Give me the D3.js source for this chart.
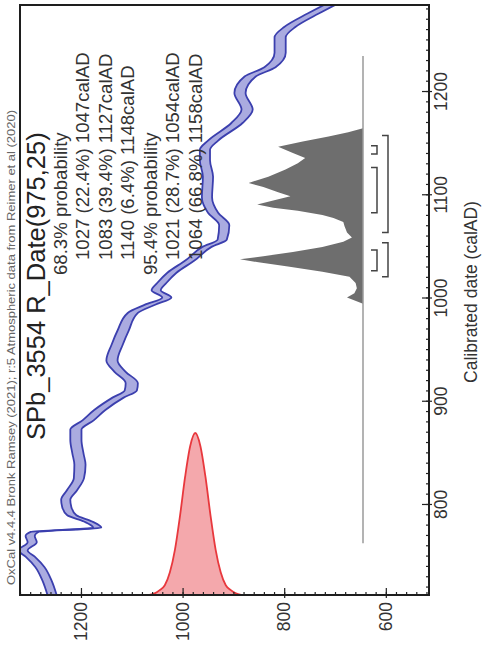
<!DOCTYPE html>
<html>
<head>
<meta charset="utf-8">
<script src="https://cdn.jsdelivr.net/npm/d3@7"></script>
<style>
body { margin: 0; background: #fff; }
svg { display: block; font-family: "Liberation Sans", Arial, sans-serif; }
</style>
</head>
<body>
<div id="chart-area"></div>
<script>
// Calibration curve (IntCal20): calAD, BP, 1 sigma
var curveCal = [713,727,740,750,756,764,770,774,778,784,790,798,805,814,826,839,850,863,873,882,
                892,904,911,918,929,940,955,969,986,994,1001,1008,1015,1025,1037,1050,1057,1071,1083,1098,
                1118,1134,1144,1153,1170,1183,1199,1215,1224,1238,1253,1263,1276,1286];
var curveBP = [1257,1267,1281,1300,1314,1296,1300,1291,1168,1186,1218,1228,1230,1218,1204,1202,1206,1210,1210,1186,
               1163,1127,1102,1100,1123,1139,1129,1117,1098,1064,1031,1052,1041,1021,985,952,922,918,940,952,
               950,956,956,940,893,873,887,867,828,808,808,789,743,704];
var curveErr = [9,9,9,9,9,9,9,8,8,8,9,9,9,10,10,11,11,11,11,11,
                11,11,12,12,11,11,11,11,10,10,9,9,9,9,9,9,9,10,10,10,
                10,10,10,10,11,11,11,11,11,11,11,11,11,11];

// Radiocarbon measurement 975 +/- 25 BP (relative density)
var measBP = [1065,1055,1045,1035,1025,1015,1005,995,985,975,965,955,945,935,925,915,905,895,885];
var measDens = [0,0.01,0.03,0.06,0.14,0.28,0.49,0.73,0.92,1.0,0.92,0.73,0.49,0.28,0.14,0.06,0.03,0.01,0];

// Calibrated distribution (relative density)
var calYears = [995,1001,1005,1010,1015,1021,1026,1031,1035,1038,1041,1045,1050,1055,1059,1064,1070,1074,1078,1081,
                1085,1088,1091,1095,1099,1103,1108,1112,1118,1125,1131,1136,1141,1147,1152,1157,1161,1165];
var calDens = [0,0.13,0.07,0.05,0.06,0.11,0.33,0.61,0.85,1.0,0.81,0.57,0.33,0.16,0.09,0.13,0.15,0.16,0.24,0.33,
               0.53,0.73,0.86,0.73,0.59,0.69,0.81,0.93,0.77,0.63,0.53,0.47,0.57,0.69,0.49,0.28,0.12,0];
var calLine = [763, 1235];

var range68 = [[1027,1047],[1083,1127],[1140,1148]];
var range95 = [[1021,1054],[1064,1158]];

var calTicks = [800, 900, 1000, 1100, 1200];
var bpTicks = [600, 800, 1000, 1200];

var headerText = "OxCal v4.4.4 Bronk Ramsey (2021); r:5 Atmospheric data from Reimer et al (2020)";
var titleText = "SPb_3554 R_Date(975,25)";
var probHeads = ["68.3% probability", "95.4% probability"];
var lines68 = ["1027 (22.4%) 1047calAD", "1083 (39.4%) 1127calAD", "1140 (6.4%) 1148calAD"];
var lines95 = ["1021 (28.7%) 1054calAD", "1064 (66.8%) 1158calAD"];
var xTitle = "Calibrated date (calAD)";

// the whole OxCal plot is turned a quarter turn anticlockwise
var width = 590, height = 409;

var svg = d3.select("#chart-area")
    .append("svg")
    .attr("width", 490)
    .attr("height", 649);

var g = svg.append("g")
    .attr("transform", "translate(20,595) rotate(-90)");

// Scales
var x = d3.scaleLinear().domain([712.8, 1284.3]).range([0, width]);
var y = d3.scaleLinear().domain([515, 1320]).range([height, 0]);
var distY = d3.scaleLinear().domain([0, 1]).range([343, 220]);
var measX = d3.scaleLinear().domain([0, 1]).range([0, 162]);

g.append("clipPath").attr("id", "plotclip")
  .append("rect").attr("width", width).attr("height", height);

var plot = g.append("g").attr("clip-path", "url(#plotclip)");

// red measurement curve along the BP axis
var measData = measBP.map(function(b, i){ return { bp: b, d: measDens[i] }; });
var measArea = d3.area()
    .curve(d3.curveMonotoneY)
    .y(function(d){ return y(d.bp); })
    .x0(0)
    .x1(function(d){ return measX(d.d); });
plot.append("path")
    .attr("d", measArea(measData))
    .attr("fill", "#f4a8ac")
    .attr("stroke", "#e8383d")
    .attr("stroke-width", 1.8);

// calibration curve band
var curveData = curveCal.map(function(c, i){ return { cal: c, bp: curveBP[i], e: curveErr[i] }; });
var band = d3.area()
    .curve(d3.curveMonotoneX)
    .x(function(d){ return x(d.cal); })
    .y0(function(d){ return y(d.bp - d.e); })
    .y1(function(d){ return y(d.bp + d.e); });
plot.append("path")
    .attr("d", band(curveData))
    .attr("fill", "#aaabe0");
[-1, 1].forEach(function(s){
  var edge = d3.line()
      .curve(d3.curveMonotoneX)
      .x(function(d){ return x(d.cal); })
      .y(function(d){ return y(d.bp + s * d.e); });
  plot.append("path")
      .attr("d", edge(curveData))
      .attr("fill", "none")
      .attr("stroke", "#3b3fae")
      .attr("stroke-width", 1.8);
});

// calibrated distribution
var calData = calYears.map(function(c, i){ return { cal: c, d: calDens[i] }; });
var distArea = d3.area()
    .x(function(d){ return x(d.cal); })
    .y0(distY(0))
    .y1(function(d){ return distY(d.d); });
plot.append("path")
    .attr("d", distArea(calData))
    .attr("fill", "#6e6e6e");
plot.append("line")
    .attr("x1", x(calLine[0])).attr("x2", x(calLine[1]))
    .attr("y1", distY(0)).attr("y2", distY(0))
    .attr("stroke", "#9a9a9a")
    .attr("stroke-width", 1.5);

// range brackets
function brackets(ranges, v) {
  ranges.forEach(function(r){
    plot.append("path")
        .attr("d", "M" + x(r[0]) + "," + (v - 6) + "V" + v + "H" + x(r[1]) + "V" + (v - 6))
        .attr("fill", "none")
        .attr("stroke", "#444")
        .attr("stroke-width", 1.5);
  });
}
brackets(range68, 357);
brackets(range95, 368);

// Axes
var calMinor = d3.range(720, 1290, 10);
var bpMinor = d3.range(520, 1321, 20);

g.append("g")
    .attr("transform", "translate(0," + height + ")")
    .call(d3.axisBottom(x).tickValues(calMinor).tickSize(-3).tickFormat(""))
    .call(function(a){ a.select(".domain").remove(); });
var xAxis = g.append("g")
    .attr("transform", "translate(0," + height + ")")
    .call(d3.axisBottom(x).tickValues(calTicks).tickSizeInner(-7).tickSizeOuter(0).tickPadding(6).tickFormat(d3.format("d")));
xAxis.select(".domain").remove();
xAxis.selectAll("text").attr("font-size", "17.5px").attr("fill", "#333");
xAxis.selectAll(".tick").append("line").attr("y2", 3).attr("stroke", "currentColor");

g.append("g")
    .call(d3.axisLeft(y).tickValues(bpMinor).tickSize(-3).tickFormat(""))
    .call(function(a){ a.select(".domain").remove(); });
var yAxis = g.append("g")
    .call(d3.axisLeft(y).tickValues(bpTicks).tickSizeInner(-7).tickSizeOuter(0).tickPadding(7).tickFormat(d3.format("d")));
yAxis.select(".domain").remove();
yAxis.selectAll("text").attr("font-size", "17.5px").attr("fill", "#333");
yAxis.selectAll(".tick").append("line").attr("x2", -3).attr("stroke", "currentColor");

g.selectAll(".tick line").attr("stroke", "#222").attr("stroke-width", 1.2);

// frame
g.append("rect")
    .attr("width", width)
    .attr("height", height)
    .attr("fill", "none")
    .attr("stroke", "#1e1e1e")
    .attr("stroke-width", 2);

// Texts
g.append("text")
    .attr("x", 10).attr("y", -5)
    .attr("font-size", "11px")
    .attr("fill", "#666")
    .attr("textLength", 475)
    .attr("lengthAdjust", "spacingAndGlyphs")
    .text(headerText);

g.append("text")
    .attr("x", 155).attr("y", 25)
    .attr("font-size", "25.5px")
    .attr("fill", "#222")
    .text(titleText);

var infoRows = [{ t: probHeads[0], head: true }]
    .concat(lines68.map(function(t){ return { t: t }; }))
    .concat([{ t: probHeads[1], head: true }])
    .concat(lines95.map(function(t){ return { t: t }; }));

g.selectAll(".info").data(infoRows)
  .enter().append("text")
    .attr("class", "info")
    .attr("x", function(d){ return d.head ? 320 : 335; })
    .attr("y", function(d, i){ return 46.5 + i * 22.5; })
    .attr("font-size", "18.6px")
    .attr("fill", "#333")
    .text(function(d){ return d.t; });

g.append("text")
    .attr("x", 303).attr("y", height + 48)
    .attr("text-anchor", "middle")
    .attr("font-size", "17.5px")
    .attr("fill", "#333")
    .text(xTitle);
</script>
</body>
</html>
